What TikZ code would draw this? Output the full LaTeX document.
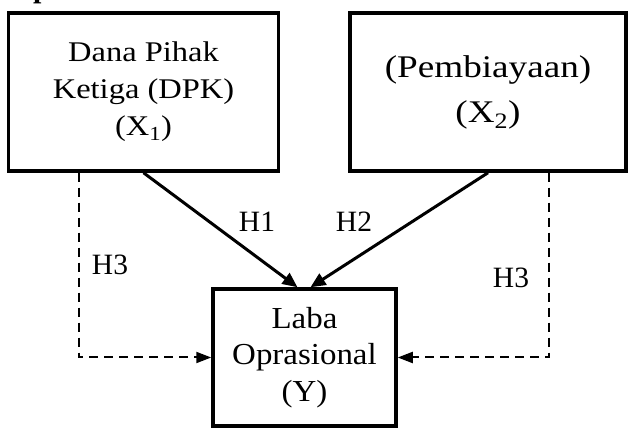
\documentclass[tikz,border=0pt]{standalone}
\usepackage{fontspec}
\setmainfont{Liberation Serif}
\newfontfamily\cajaA[FakeStretch=1.14]{Liberation Serif}
\newfontfamily\cajaB[FakeStretch=1.18]{Liberation Serif}
\newfontfamily\cajaC[FakeStretch=1.08]{Liberation Serif}
\usetikzlibrary{arrows.meta,calc}

\begin{document}
\begin{tikzpicture}[x=1pt,y=-1pt,
    caja/.style={draw,line width=3.5pt,align=center,inner sep=0pt},
    flecha/.style={line width=3pt,-{Triangle[length=15pt,width=13pt]}},
    flechaH/.style={line width=2pt,dash pattern=on 9pt off 6pt,-{Triangle[length=15pt,width=11pt]}},
    etiqueta/.style={font=\fontsize{29.5}{35}\selectfont}]
    \useasboundingbox (0,0) rectangle (630,430);

    % Titulo (cortado arriba)
    \begin{scope}
        \clip (0,0) rectangle (630,430);
        \node[anchor=base west,inner sep=0pt,font=\fontsize{30}{36}\selectfont\bfseries] (titulo) at (33,-2) {p};
    \end{scope}

    % Cajas
    \node[caja,minimum width=270pt,minimum height=158pt,font=\cajaA\fontsize{28.5}{37}\selectfont] (dpk) at (143.5,92) {Dana Pihak\\Ketiga (DPK)\\(X\textsubscript{1})};
    \node[caja,minimum width=276pt,minimum height=158pt,font=\cajaB\fontsize{31.5}{45}\selectfont] (pby) at (488,92) {(Pembiayaan)\\(X\textsubscript{2})};
    \node[caja,minimum width=183pt,minimum height=137pt,font=\cajaC\fontsize{30.5}{36.5}\selectfont] (laba) at (304.5,357.5) {Laba\\Oprasional\\(Y)};

    % Flechas H1 y H2
    \draw[flecha] (dpk.south) -- ($(laba.north)+(-7,0)$);
    \draw[flecha] (pby.south) -- ($(laba.north)+(6,0)$);

    % Flechas H3
    \draw[flechaH] ([xshift=72pt]dpk.south west) |- (laba.west);
    \draw[flechaH] ([xshift=-79pt]pby.south east) |- (laba.east);

    % Etiquetas
    \node[etiqueta] (h1) at (257,222) {H1};
    \node[etiqueta] (h2) at (354,222) {H2};
    \node[etiqueta] (h3a) at (110,265) {H3};
    \node[etiqueta] (h3b) at (511,278) {H3};
\end{tikzpicture}
\end{document}
